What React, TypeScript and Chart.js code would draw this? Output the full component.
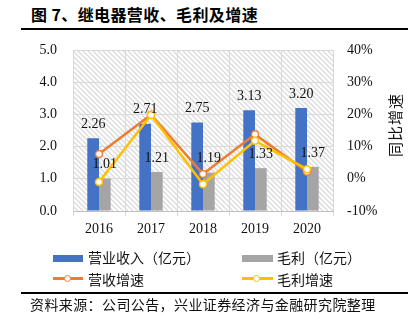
import React, { useEffect, useRef } from "react";
import { Chart, registerables } from "chart.js";

Chart.register(...registerables);

const categories = ["2016", "2017", "2018", "2019", "2020"];
const revenue = [2.26, 2.71, 2.75, 3.13, 3.2];
const grossProfit = [1.01, 1.21, 1.19, 1.33, 1.37];
const revenueGrowth = [7.7, 19.9, 1.5, 13.8, 2.2];
const profitGrowth = [-1.0, 19.8, -1.7, 11.8, 3.0];
const leftTicks = [0, 1, 2, 3, 4, 5];
const rightTicks = [-10, 0, 10, 20, 30, 40];
const seriesNames = ["营业收入（亿元）", "毛利（亿元）", "营收增速", "毛利增速"];
const titleText = "图 7、继电器营收、毛利及增速";
const sourceText = "资料来源：公司公告，兴业证券经济与金融研究院整理";
const rightAxisTitle = "同比增速";

const BLUE = "#4472C4";
const GRAY = "#A5A5A5";
const ORANGE = "#ED7D31";
const YELLOW = "#FFC000";
const SERIF = "'Liberation Serif', 'Times New Roman', serif";
const CJK = "'Noto Sans CJK SC', 'Noto Sans', sans-serif";

const hatchPlugin = {
  id: "hatch",
  beforeDraw(chart: any) {
    const { ctx, chartArea } = chart;
    const { left, top, right, bottom } = chartArea;
    ctx.save();
    ctx.beginPath();
    ctx.rect(left, top, right - left, bottom - top);
    ctx.clip();
    ctx.strokeStyle = "#dcdcdc";
    ctx.lineWidth = 1.4;
    const h = bottom - top;
    for (let x = left - h; x < right + 5; x += 5) {
      ctx.beginPath();
      ctx.moveTo(x, top);
      ctx.lineTo(x + h, bottom);
      ctx.stroke();
    }
    ctx.restore();
  },
};

const labelPlugin = {
  id: "barLabels",
  afterDatasetsDraw(chart: any) {
    const { ctx } = chart;
    ctx.save();
    ctx.font = `14px ${SERIF}`;
    ctx.fillStyle = "#111";
    ctx.textAlign = "center";
    ctx.textBaseline = "middle";
    [0, 1].forEach((di) => {
      const meta = chart.getDatasetMeta(di);
      const values = chart.data.datasets[di].data as number[];
      meta.data.forEach((el: any, i: number) => {
        ctx.fillText(values[i].toFixed(2), el.x, el.y - 14);
      });
    });
    ctx.restore();
  },
};

function ChartCanvas() {
  const ref = useRef<HTMLCanvasElement | null>(null);
  useEffect(() => {
    if (!ref.current) return;
    const tickFont = { family: SERIF, size: 14 };
    const chart = new Chart(ref.current, {
      type: "bar",
      data: {
        labels: categories,
        datasets: [
          {
            type: "bar",
            label: seriesNames[0],
            data: revenue,
            backgroundColor: BLUE,
            yAxisID: "y",
            order: 2,
            categoryPercentage: 0.45,
            barPercentage: 1,
          },
          {
            type: "bar",
            label: seriesNames[1],
            data: grossProfit,
            backgroundColor: GRAY,
            yAxisID: "y",
            order: 3,
            categoryPercentage: 0.45,
            barPercentage: 1,
          },
          {
            type: "line",
            label: seriesNames[2],
            data: revenueGrowth,
            borderColor: ORANGE,
            backgroundColor: "#fff",
            pointBackgroundColor: "#fff",
            pointBorderColor: ORANGE,
            borderWidth: 2.5,
            pointRadius: 3.5,
            pointBorderWidth: 1.5,
            yAxisID: "y1",
            order: 1,
          },
          {
            type: "line",
            label: seriesNames[3],
            data: profitGrowth,
            borderColor: YELLOW,
            backgroundColor: "#fff",
            pointBackgroundColor: "#fff",
            pointBorderColor: YELLOW,
            borderWidth: 2.5,
            pointRadius: 3.5,
            pointBorderWidth: 1.5,
            yAxisID: "y1",
            order: 0,
          },
        ] as any,
      },
      options: {
        animation: false,
        responsive: false,
        devicePixelRatio: 1,
        layout: { padding: { top: 50, left: 0, right: 0, bottom: 0 } },
        plugins: {
          legend: { display: false },
          tooltip: { enabled: false },
          title: { display: false },
        },
        scales: {
          x: {
            grid: {
              color: "#d9d9d9",
              offset: true,
              tickLength: 5,
              drawTicks: true,
            },
            border: { color: "#bfbfbf" },
            ticks: { font: tickFont, color: "#111", padding: 5 },
            afterFit(scale: any) {
              scale.height = 117;
            },
          },
          y: {
            position: "left",
            min: leftTicks[0],
            max: leftTicks[leftTicks.length - 1],
            grid: { color: "#d9d9d9", drawTicks: false },
            border: { color: "#d9d9d9" },
            ticks: {
              stepSize: 1,
              font: tickFont,
              color: "#111",
              padding: 16,
              callback: (v: any) => Number(v).toFixed(1),
            },
            afterFit(scale: any) {
              scale.width = 73;
            },
          },
          y1: {
            position: "right",
            min: rightTicks[0],
            max: rightTicks[rightTicks.length - 1],
            grid: { drawOnChartArea: false, drawTicks: false },
            border: { display: false },
            ticks: {
              stepSize: 10,
              font: tickFont,
              color: "#111",
              padding: 14,
              callback: (v: any) => `${v}%`,
            },
            afterFit(scale: any) {
              scale.width = 80;
            },
          },
        },
      } as any,
      plugins: [hatchPlugin, labelPlugin],
    });
    return () => chart.destroy();
  }, []);
  return (
    <canvas
      ref={ref}
      width={413}
      height={328}
      style={{ position: "absolute", left: 0, top: 0, width: 413, height: 328 }}
    />
  );
}

const textStyle: React.CSSProperties = {
  position: "absolute",
  fontFamily: CJK,
  fontSize: 14,
  lineHeight: "20px",
  color: "#111",
  whiteSpace: "nowrap",
};

export default function App() {
  return (
    <div
      style={{
        position: "absolute",
        left: 0,
        top: 0,
        width: 413,
        height: 328,
        background: "#fff",
        overflow: "hidden",
      }}
    >
      <div
        style={{
          ...textStyle,
          left: 31,
          top: 4,
          fontSize: 16,
          fontWeight: 700,
          color: "#000",
          letterSpacing: 0.4,
        }}
      >
        {titleText}
      </div>
      <div style={{ position: "absolute", left: 21, top: 28, width: 387, height: 2, background: "#000" }} />
      <ChartCanvas />
      <div
        style={{
          ...textStyle,
          left: 395,
          top: 125,
          fontSize: 15,
          letterSpacing: 1,
          transform: "translate(-50%, -50%) rotate(-90deg)",
        }}
      >
        {rightAxisTitle}
      </div>
      {/* legend row 1 */}
      <div style={{ position: "absolute", left: 53, top: 255, width: 30, height: 7, background: BLUE }} />
      <div style={{ ...textStyle, left: 88, top: 247 }}>{seriesNames[0]}</div>
      <div style={{ position: "absolute", left: 242, top: 255, width: 31, height: 7, background: GRAY }} />
      <div style={{ ...textStyle, left: 277, top: 247 }}>{seriesNames[1]}</div>
      {/* legend row 2 */}
      <div style={{ position: "absolute", left: 53, top: 277, width: 30, height: 2.5, background: ORANGE }} />
      <div
        style={{
          position: "absolute",
          left: 64,
          top: 274.5,
          width: 5,
          height: 5,
          border: `1.5px solid ${ORANGE}`,
          borderRadius: "50%",
          background: "#fff",
        }}
      />
      <div style={{ ...textStyle, left: 88, top: 269 }}>{seriesNames[2]}</div>
      <div style={{ position: "absolute", left: 242, top: 277, width: 31, height: 2.5, background: YELLOW }} />
      <div
        style={{
          position: "absolute",
          left: 253,
          top: 274.5,
          width: 5,
          height: 5,
          border: `1.5px solid ${YELLOW}`,
          borderRadius: "50%",
          background: "#fff",
        }}
      />
      <div style={{ ...textStyle, left: 277, top: 269 }}>{seriesNames[3]}</div>
      <div style={{ position: "absolute", left: 21, top: 292, width: 387, height: 2, background: "#000" }} />
      <div style={{ ...textStyle, left: 30, top: 294, letterSpacing: 0.4 }}>{sourceText}</div>
    </div>
  );
}
